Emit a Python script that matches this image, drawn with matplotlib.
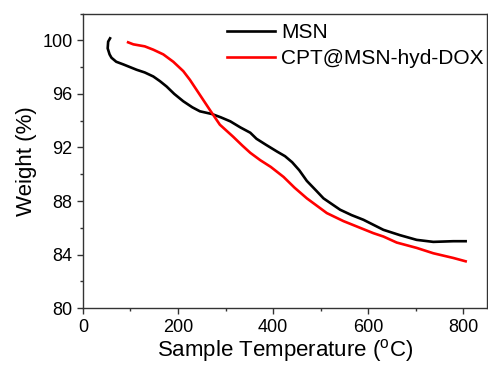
import matplotlib
matplotlib.use("Agg")
import matplotlib.pyplot as plt
from matplotlib.ticker import MultipleLocator

plt.rcParams["font.family"] = ["Liberation Sans", "DejaVu Sans"]
plt.rcParams["mathtext.fontset"] = "custom"
plt.rcParams["mathtext.rm"] = "Liberation Sans"

# TGA curves
msn_temp = [57, 53, 52, 56, 60, 70, 85, 113, 130, 148, 162, 176, 192, 211, 230, 246,
            271, 290, 310, 331, 352, 365, 385, 408, 425, 440, 455, 471, 490, 506,
            541, 565, 590, 632, 667, 702, 737, 779, 805]
msn_weight = [100.15, 99.9, 99.4, 98.95, 98.7, 98.4, 98.2, 97.8, 97.6, 97.3, 96.95,
              96.55, 96.0, 95.45, 95.0, 94.7, 94.5, 94.25, 93.95, 93.5, 93.1, 92.65,
              92.2, 91.7, 91.35, 90.9, 90.3, 89.5, 88.8, 88.2, 87.35, 86.95, 86.6,
              85.85, 85.45, 85.1, 84.95, 85.0, 85.0]

cpt_temp = [95, 106, 130, 148, 169, 190, 211, 225, 239, 253, 267, 288, 316, 335,
            352, 373, 395, 422, 445, 471, 513, 548, 576, 611, 632, 660, 702, 737,
            779, 805]
cpt_weight = [99.85, 99.7, 99.55, 99.3, 98.95, 98.4, 97.7, 97.05, 96.3, 95.55, 94.8,
              93.7, 92.8, 92.15, 91.6, 91.05, 90.55, 89.8, 89.0, 88.2, 87.1, 86.5,
              86.1, 85.6, 85.35, 84.9, 84.5, 84.1, 83.75, 83.5]

fig = plt.figure(figsize=(4.88, 3.66), dpi=100)
ax = fig.add_axes([0.170, 0.158, 0.828, 0.805])

ax.plot(msn_temp, msn_weight, color="black", linewidth=1.9, label="MSN")
ax.plot(cpt_temp, cpt_weight, color="#ff0000", linewidth=1.9, label="CPT@MSN-hyd-DOX")

ax.set_xlim(0, 850)
ax.set_ylim(80, 102)
ax.xaxis.set_major_locator(MultipleLocator(200))
ax.xaxis.set_minor_locator(MultipleLocator(100))
ax.yaxis.set_major_locator(MultipleLocator(4))
ax.yaxis.set_minor_locator(MultipleLocator(2))

for side in ("left", "bottom", "top", "right"):
    ax.spines[side].set_color("#333333")
    ax.spines[side].set_linewidth(1.0)

ax.tick_params(which="major", direction="out", length=4, width=1,
               color="#333333", labelsize=13, top=False, right=False)
ax.tick_params(which="minor", direction="out", length=2.5, width=1,
               color="#333333", top=False, right=False)

ax.set_xlabel(r"Sample Temperature ($^{\rm o}$C)", fontsize=16, labelpad=1)
ax.set_ylabel("Weight (%)", fontsize=16, labelpad=4)

ax.legend(loc="upper right", bbox_to_anchor=(0.997, 0.975), frameon=False,
          fontsize=15, handlelength=2.3, handletextpad=0.3, borderpad=0.0,
          borderaxespad=0.1, labelspacing=0.33)

fig.savefig("out.png", dpi=100)
